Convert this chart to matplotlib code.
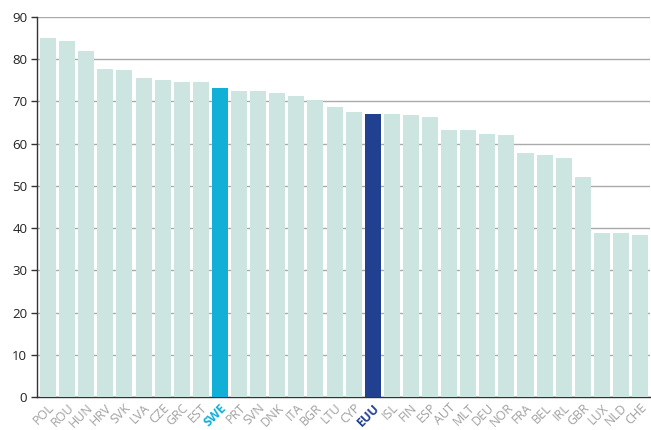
import matplotlib.pyplot as plt
import numpy as np

# =========================================================
# DATA
# =========================================================

countries = [
    "POL", "ROU", "HUN", "HRV", "SVK", "LVA", "CZE", "GRC", "EST", "SWE",
    "PRT", "SVN", "DNK", "ITA", "BGR", "LTU", "CYP", "EUU", "ISL", "FIN",
    "ESP", "AUT", "MLT", "DEU", "NOR", "FRA", "BEL", "IRL", "GBR", "LUX",
    "NLD", "CHE"
]

values = [
    85.0, 84.3, 81.9, 77.6, 77.4, 75.5, 75.0, 74.5, 74.5, 73.1,
    72.5, 72.5, 71.9, 71.4, 70.4, 68.8, 67.4, 67.1, 67.1, 66.9,
    66.4, 63.3, 63.3, 62.4, 62.1, 57.9, 57.4, 56.7, 52.1, 38.8,
    38.8, 38.3
]

highlight = {"SWE": "#12b0d6", "EUU": "#21408f"}
base_color = "#cce5e0"

# =========================================================
# PLOT
# =========================================================

fig = plt.figure(figsize=(6.51, 4.30), dpi=100)
ax = fig.add_axes([0.0568, 0.0767, 0.9417, 0.8838])

x = np.arange(len(countries))
colors = [highlight.get(c, base_color) for c in countries]

ax.bar(x, values, width=0.84, color=colors, zorder=2)

ax.set_xlim(-0.58, 31.52)
ax.set_ylim(0, 90)
ax.set_yticks(range(0, 91, 10))

ax.yaxis.grid(True, color="#aaaaaa", linewidth=1.0, zorder=0)
ax.set_axisbelow(True)

for side in ["top", "right"]:
    ax.spines[side].set_visible(False)
ax.spines["left"].set_color("#333333")
ax.spines["left"].set_linewidth(1.0)
ax.spines["bottom"].set_color("#333333")
ax.spines["bottom"].set_linewidth(1.0)
ax.spines["bottom"].set_zorder(1)

ax.tick_params(axis="y", length=4, width=1, color="#333333",
               labelsize=9.5, labelcolor="#222222", pad=3)
ax.tick_params(axis="x", length=0, pad=3)

ax.set_xticks(x)
ax.set_xticklabels(countries, rotation=45, ha="right", va="top",
                   rotation_mode="anchor", fontsize=9, color="#a0a0a0")

for lbl, c in zip(ax.get_xticklabels(), countries):
    if c in highlight:
        lbl.set_color(highlight[c])
        lbl.set_fontweight("bold")

for lbl in ax.get_yticklabels() + ax.get_xticklabels():
    lbl.set_family(["Open Sans", "DejaVu Sans"])

fig.savefig("out.png", dpi=100)
